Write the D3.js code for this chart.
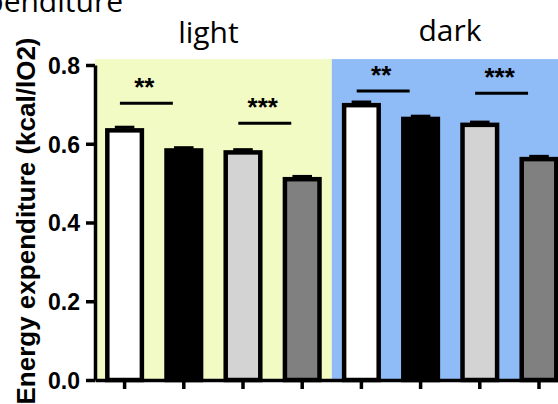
<!DOCTYPE html>
<html>
<head>
	<meta charset="UTF-8"/>
	<title>Energy expenditure - light / dark</title>
	<style type="text/css">
		body {
		margin: 0;
		background: #fff;
		}

		svg {
		display: block;
		}

		.axis path,
		.axis line {
		stroke: #000;
		stroke-width: 3.5;
		}

		.axis text {
		font-family: 'Liberation Sans', Arial, sans-serif;
		font-weight: bold;
		font-size: 23px;
		fill: #000;
		}

		text.ytitle {
		font-family: 'Liberation Sans', Arial, sans-serif;
		font-weight: bold;
		font-size: 26px;
		}

		text.phase, text.title {
		font-family: 'Open Sans', sans-serif;
		font-size: 30px;
		fill: #000;
		}

		text.star {
		font-family: 'Liberation Sans', Arial, sans-serif;
		font-weight: bold;
		font-size: 26px;
		}

		.bar {
		stroke: #000;
		stroke-width: 4.5;
		}
	</style>
	<script src="https://d3js.org/d3.v7.min.js"></script>
</head>
<body>

	<svg width="558" height="404"></svg>

	<script>
		// values
		const phases = ['light', 'dark'];
		const categories = ['light-1', 'light-2', 'light-3', 'light-4', 'dark-1', 'dark-2', 'dark-3', 'dark-4'];
		const means = [0.634, 0.583, 0.578, 0.510, 0.698, 0.663, 0.648, 0.561];
		const sems = [0.008, 0.007, 0.007, 0.007, 0.008, 0.007, 0.007, 0.007];
		const yTicks = [0, 0.2, 0.4, 0.6, 0.8];
		// significance brackets: first bar, second bar, label, height of the line
		const sigFrom = [0, 2, 4, 6];
		const sigTo = [1, 3, 5, 7];
		const sigLabels = ['**', '***', '**', '***'];
		const sigLevels = [0.703, 0.652, 0.734, 0.728];

		const barColors = ['#ffffff', '#000000', '#d3d3d3', '#808080'];
		const phaseColors = ['#f3fbc5', '#8fbcf6'];

		const axisX = 95;
		const svg = d3.select('svg');

		const y = d3.scaleLinear()
			.domain([0, 0.8])
			.range([380, 65]);

		const x = d3.scaleBand()
			.domain(categories)
			.range([axisX, axisX + 8 * 59.2])
			.paddingInner(0.34)
			.paddingOuter(0.17);

		const bw = x.bandwidth();
		const halfGap = x.step() * x.paddingInner() / 2;

		/* light / dark backgrounds */
		phases.forEach((p, i) => {
			const cats = categories.filter((c) => c.startsWith(p));
			const x0 = Math.max(axisX, x(cats[0]) - halfGap);
			const x1 = x(cats[cats.length - 1]) + bw + halfGap;
			svg.append('rect')
				.attr('x', x0)
				.attr('y', y(0.815))
				.attr('width', x1 - x0)
				.attr('height', y(0) - y(0.815))
				.attr('fill', phaseColors[i]);

			svg.append('text')
				.attr('class', 'phase')
				.attr('x', (x0 + Math.min(x1, 558)) / 2 + (i === 0 ? -5 : 5))
				.attr('y', i === 0 ? 43 : 41)
				.attr('text-anchor', 'middle')
				.text(p);
		});

		/* bars */
		const rows = categories.map((c, i) => ({ cat: c, mean: means[i], sem: sems[i], color: barColors[i % 4] }));

		svg.selectAll('.bar')
			.data(rows)
			.enter()
			.append('rect')
			.attr('class', 'bar')
			.attr('x', (d) => x(d.cat) + 2.25)
			.attr('y', (d) => y(d.mean))
			.attr('width', bw - 4.5)
			.attr('height', (d) => y(0) - y(d.mean))
			.attr('fill', (d) => d.color);

		/* error bars (upper only) */
		const err = svg.append('g').attr('stroke', '#000').attr('stroke-width', 3);
		rows.forEach((d) => {
			const cx = x(d.cat) + bw / 2;
			err.append('line')
				.attr('x1', cx).attr('x2', cx)
				.attr('y1', y(d.mean)).attr('y2', y(d.mean + d.sem));
			err.append('line')
				.attr('x1', cx - bw / 4).attr('x2', cx + bw / 4)
				.attr('y1', y(d.mean + d.sem)).attr('y2', y(d.mean + d.sem));
		});

		/* significance lines */
		sigFrom.forEach((a, i) => {
			const x1 = x(categories[a]) + 0.38 * bw;
			const x2 = x(categories[sigTo[i]]) + 0.22 * bw;
			const ly = y(sigLevels[i]);
			svg.append('line')
				.attr('x1', x1).attr('x2', x2)
				.attr('y1', ly).attr('y2', ly)
				.attr('stroke', '#000')
				.attr('stroke-width', 3);
			svg.append('text')
				.attr('class', 'star')
				.attr('x', (x1 + x2) / 2 - 2)
				.attr('y', ly - 7)
				.attr('text-anchor', 'middle')
				.text(sigLabels[i]);
		});

		/* axes */
		svg.append('g')
			.attr('class', 'axis')
			.attr('transform', `translate(${axisX}, 0)`)
			.call(d3.axisLeft(y).tickValues(yTicks).tickFormat(d3.format('.1f')).tickSize(9).tickSizeOuter(0).tickPadding(6))
			.call((g) => g.selectAll('text').attr('dy', '0.36em'));

		svg.append('g')
			.attr('class', 'axis')
			.attr('transform', `translate(0, ${y(0)})`)
			.call(d3.axisBottom(x).tickSize(9).tickSizeOuter(0).tickFormat(''));

		/* titles */
		svg.append('text')
			.attr('class', 'ytitle')
			.attr('transform', 'translate(35, 221) rotate(-90)')
			.attr('text-anchor', 'middle')
			.text('Energy expenditure (kcal/lO2)');

		svg.append('text')
			.attr('class', 'title')
			.attr('x', 123)
			.attr('y', 12)
			.attr('text-anchor', 'end')
			.text('Energy expenditure');
	</script>

</body>
</html>
